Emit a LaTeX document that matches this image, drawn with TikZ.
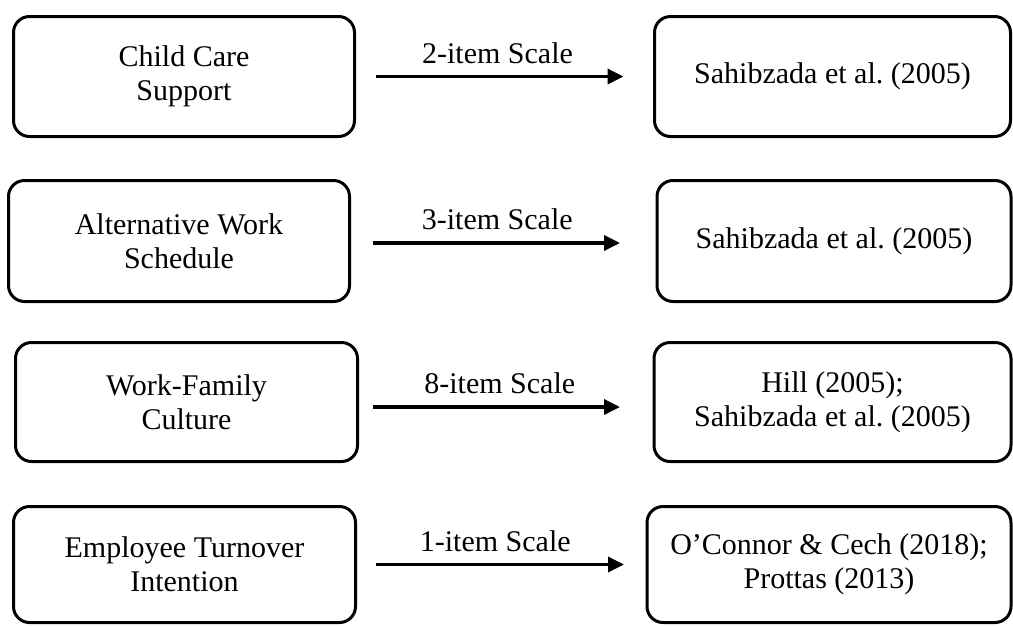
\documentclass[tikz,border=0pt]{standalone}
\usepackage{fontspec}
\setmainfont{Liberation Serif}
\usetikzlibrary{arrows.meta,positioning}

\tikzset{
  measbox/.style={draw, line width=3pt, rounded corners=16pt, align=center,
    inner sep=0pt, outer sep=0pt, minimum height=120pt},
  scalearrow/.style={->, line width=3.5pt},
  scalelabel/.style={inner sep=0pt, above=11pt}
}

\begin{document}
\frenchspacing
\begin{tikzpicture}[>={Triangle[length=16pt,width=15pt]},x=1pt,y=-1pt,
  font=\fontsize{30}{34}\selectfont]
\useasboundingbox (0,0) rectangle (1013,625);

\node[measbox, minimum width=341pt] (ccs) at (184,76.5) {Child Care\\Support};
\node[measbox, minimum width=356pt] (ccsref) at (832.5,76.5) {Sahibzada et al. (2005)};

\node[measbox, minimum width=341pt, minimum height=121pt] (aws) at (179,241) {Alternative Work\\Schedule};
\node[measbox, minimum width=354pt, minimum height=121pt] (awsref) at (834,241) {Sahibzada et al. (2005)};

\node[measbox, minimum width=342pt, minimum height=119pt] (wfc) at (186.5,402) {Work-Family\\Culture};
\node[measbox, minimum width=357pt, minimum height=119pt] (wfcref) at (832.5,402) {Hill (2005);\\Sahibzada et al. (2005)};

\node[measbox, minimum width=342pt, minimum height=116pt] (eti) at (184.5,564.5) {Employee Turnover\\Intention};
\node[measbox, minimum width=364pt, minimum height=116pt] (etiref) at (829,564.5) {O'Connor \& Cech (2018);\\Prottas (2013)};

% scales
\draw[scalearrow, shorten <=21pt, shorten >=31pt] (ccs) -- node[scalelabel, xshift=-7pt] {2-item Scale} (ccsref);
\draw[scalearrow, shorten <=23pt, shorten >=37pt] ([yshift=-2pt]aws.east) -- node[scalelabel, xshift=-6pt] {3-item Scale} ([yshift=-2pt]awsref.west);
\draw[scalearrow, shorten <=15pt, shorten >=34pt] ([yshift=-5pt]wfc.east) -- node[scalelabel, xshift=-6pt] {8-item Scale} ([yshift=-5pt]wfcref.west);
\draw[scalearrow, shorten <=20pt, shorten >=23pt] (eti) -- node[scalelabel, xshift=-6pt] {1-item Scale} (etiref);

\end{tikzpicture}
\end{document}
